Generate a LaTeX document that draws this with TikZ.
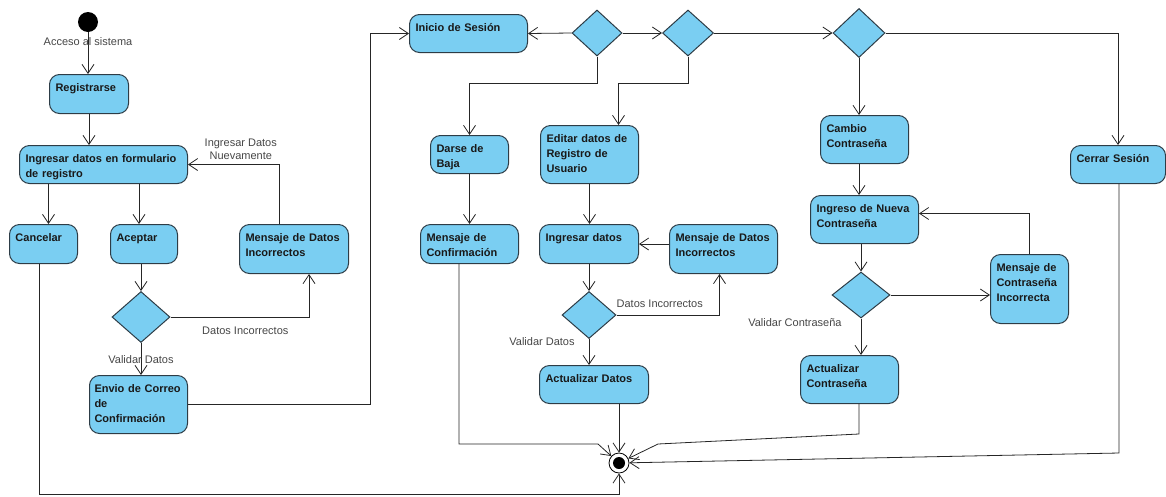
\documentclass[tikz,border=0pt]{standalone}
\usepackage{fontspec}
\setmainfont{Liberation Sans}
\usepackage{tikz}
\usetikzlibrary{arrows.meta, shapes.geometric, positioning}
\definecolor{actfill}{RGB}{122,206,242}
\definecolor{actline}{RGB}{45,60,70}
\definecolor{guardtext}{RGB}{70,70,70}
\tikzstyle{activity} = [rectangle, rounded corners=10pt, draw=actline, fill=actfill, line width=1pt,
                        anchor=north west, align=left, inner xsep=6pt, inner ysep=0pt, text height=17pt,
                        font=\bfseries\fontsize{11}{15}\selectfont, text=black!90]
\tikzstyle{decision} = [diamond, draw=actline, fill=actfill, line width=1pt, inner sep=0pt]
\tikzstyle{startnode} = [circle, fill=black, minimum size=20pt, inner sep=0pt]
\tikzstyle{endnode} = [circle, draw=black, line width=0.8pt, fill=white, minimum size=20pt, inner sep=0pt,
                       path picture={\fill[black] (path picture bounding box.center) circle (6pt);}]
\tikzstyle{flow} = [draw=black!85, line width=0.8pt, -{Straight Barb[length=9pt,width=12pt]}]
\tikzstyle{guard} = [font=\fontsize{11}{13}\selectfont, text=guardtext, inner sep=1pt, align=center]

\begin{document}
\begin{tikzpicture}[x=1pt, y=-1pt]
				\useasboundingbox (0, 0) rectangle (1166, 496);

				% registro
				\node (Start) [startnode] at (88, 22) {};
				\node (Reg) [activity, text width=67pt, text depth=22pt] at (49, 74) {Registrarse};
				\draw[flow] (Start) -- node[guard, pos=0.23] {Acceso al sistema} (Start |- Reg.north);

				\node (Form) [activity, text width=156pt, text depth=21pt] at (19, 145) {Ingresar datos en formulario\\de registro};
				\draw[flow] (Reg.south) -- (Reg.south |- Form.north);

				\node (Cancel) [activity, text width=56pt, text depth=22pt] at (9, 224) {Cancelar};
				\node (Accept) [activity, text width=55pt, text depth=22pt] at (110, 224) {Aceptar};
				\node (MsgA) [activity, text width=97pt, text depth=32pt] at (239, 224) {Mensaje de Datos\\Incorrectos};
				\draw[flow] ([xshift=5pt]Cancel.north |- Form.south) -- ([xshift=5pt]Cancel.north);
				\draw[flow] ([xshift=-5pt]Accept.north |- Form.south) -- ([xshift=-5pt]Accept.north);
				\draw[flow] ([xshift=-15pt]MsgA.north) |- node[guard, above=3pt, pos=0.71] {Ingresar Datos\\Nuevamente} (Form.east);

				\node (DecA) [decision, minimum width=58pt, minimum height=51pt] at (141, 317) {};
				\draw[flow] (Accept.south -| DecA) -- (DecA.north);
				\draw[flow] (DecA.east) -| node[guard, below=9pt, pos=0.27] {Datos Incorrectos} ([xshift=15pt]MsgA.south);

				\node (Send) [activity, inner xsep=5pt, text width=88pt, text depth=41pt] at (89, 375) {Envio de Correo\\de\\Confirmación};
				\draw[flow] (DecA.south) -- node[guard, pos=0.53] {Validar Datos} (DecA.south |- Send.north);

				% sesion
				\node (Login) [activity, text width=106pt, text depth=21pt] at (409, 14) {Inicio de Sesión};
				\draw[flow] (Send.east) -- ++(182, 0) |- (Login.west);

				\node (DecB) [decision, minimum width=50pt, minimum height=46pt] at (597, 33) {};
				\node (DecC) [decision, minimum width=51pt, minimum height=46pt] at (688, 33) {};
				\node (DecD) [decision, minimum width=52pt, minimum height=49pt] at (859, 33) {};
				\draw[flow] (DecB.west) -- (Login.east);
				\draw[flow] (DecB.east) -- (DecC.west);
				\draw[flow] (DecC.east) -- (DecD.west);

				% baja
				\node (Unsub) [activity, text width=66pt, text depth=21pt] at (430, 135) {Darse de\\Baja};
				\node (Confirm) [activity, text width=86pt, text depth=22pt] at (420, 224) {Mensaje de\\Confirmación};
				\draw[flow] (DecB.south) -- ++(0, 27) -| (Unsub.north);
				\draw[flow] (Unsub.south) -- (Unsub.south |- Confirm.north);

				% editar
				\node (Edit) [activity, text width=86pt, text depth=41pt] at (540, 125) {Editar datos de\\Registro de\\Usuario};
				\node (Enter) [activity, text width=87pt, text depth=22pt] at (539, 224) {Ingresar datos};
				\node (MsgB) [activity, text width=96pt, text depth=32pt] at (669, 224) {Mensaje de Datos\\Incorrectos};
				\node (DecE) [decision, minimum width=54pt, minimum height=47pt] at (589, 315) {};
				\node (Update) [activity, text width=97pt, text depth=21pt] at (539, 365) {Actualizar Datos};
				\draw[flow] (DecC.south) -- ++(0, 27) -| ([xshift=29pt]Edit.north);
				\draw[flow] (Edit.south) -- (Edit.south |- Enter.north);
				\draw[flow] (MsgB.west |- Enter.east) -- (Enter.east);
				\draw[flow] (Enter.south -| DecE) -- (DecE.north);
				\draw[flow] (DecE.east) -| node[guard, above=6pt, pos=0.21] {Datos Incorrectos} ([xshift=-4pt]MsgB.south);
				\draw[flow] (DecE.south) -- node[guard, anchor=east, pos=0.1, xshift=-13pt] {Validar Datos} (DecE.south |- Update.north);

				% contrasena
				\node (ChPass) [activity, text width=76pt, text depth=31pt] at (820, 115) {Cambio\\Contraseña};
				\node (NewPass) [activity, text width=96pt, text depth=31pt] at (810, 195) {Ingreso de Nueva\\Contraseña};
				\node (DecF) [decision, minimum width=58pt, minimum height=46pt] at (861, 295) {};
				\node (BadPass) [activity, text width=66pt, text depth=52pt] at (990, 254) {Mensaje de\\Contraseña\\Incorrecta};
				\node (UpdPass) [activity, text width=86pt, text depth=31pt] at (800, 355) {Actualizar\\Contraseña};
				\draw[flow] (DecD.south) -- (DecD.south |- ChPass.north);
				\draw[flow] (ChPass.south -| DecD) -- (NewPass.north -| DecD);
				\draw[flow] (NewPass.south -| DecF) -- (DecF.north);
				\draw[flow] (DecF.east) -- (DecF.east -| BadPass.west);
				\draw[flow] (BadPass.north) |- ([yshift=6pt]NewPass.east);
				\draw[flow] (DecF.south) -- node[guard, anchor=east, pos=0.11, xshift=-18pt] {Validar Contraseña} (DecF.south |- UpdPass.north);

				% cerrar
				\node (Logout) [activity, text width=83pt, text depth=21pt] at (1070, 145) {Cerrar Sesión};
				\draw[flow] (DecD.east) -| (Logout.north);

				% fin
				\node (End) [endnode] at (619, 463) {};
				\coordinate (BottomLeft) at (39, 494);
				\coordinate (ConfirmTurn) at (459, 444);
				\coordinate (ConfirmBend) at (598, 444);
				\coordinate (PassTurn) at (859, 434);
				\coordinate (PassBend) at (658, 444);
				\coordinate (LogoutTurn) at (1119, 453);
				\draw[flow] (BottomLeft |- Cancel.south) -- (BottomLeft) -| (End.south);
				\draw[flow] (ConfirmTurn |- Confirm.south) -- (ConfirmTurn) -- (ConfirmBend) -- (End);
				\draw[flow] (Update.south -| End) -- (End);
				\draw[flow] (PassTurn |- UpdPass.south) -- (PassTurn) -- (PassBend) -- (End);
				\draw[flow] (LogoutTurn |- Logout.south) -- (LogoutTurn) -- (End);
			\end{tikzpicture}
\end{document}
